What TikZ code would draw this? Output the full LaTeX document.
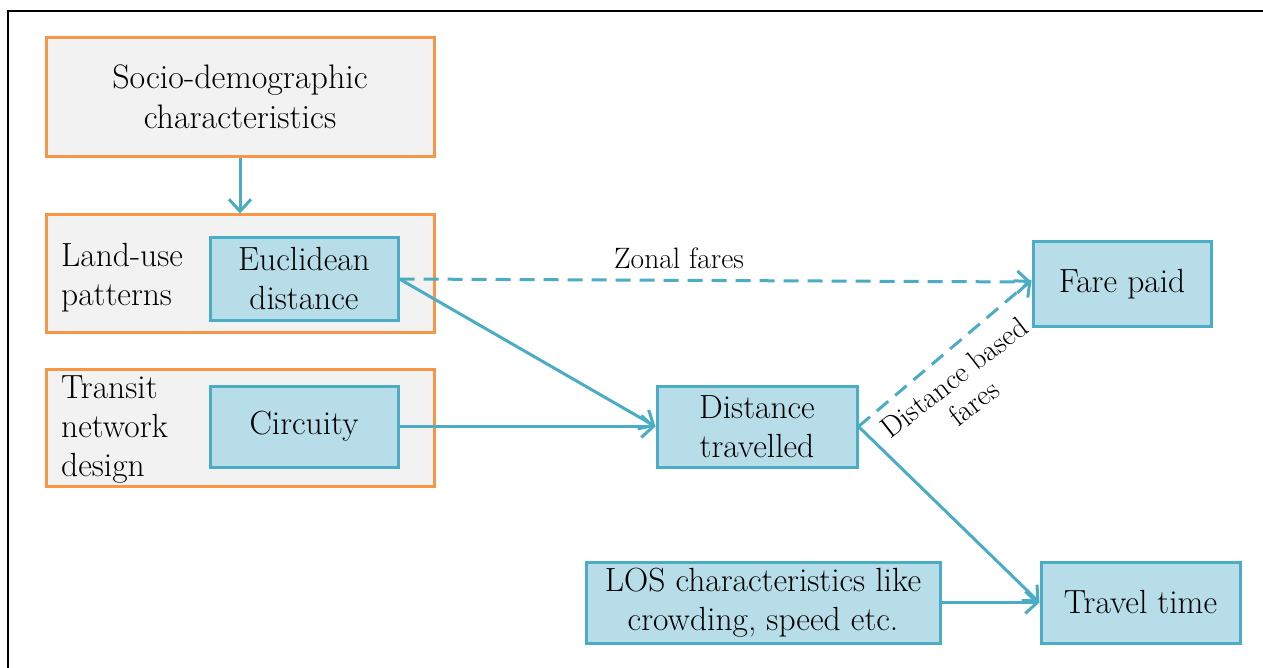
\documentclass[tikz,border=0pt]{standalone}
\usetikzlibrary{arrows.meta}
\definecolor{orangeB}{HTML}{F79646}
\definecolor{grayF}{HTML}{F2F2F2}
\definecolor{blueF}{HTML}{B7DDE8}
\definecolor{blueL}{HTML}{4BACC6}
\tikzset{
  outerbox/.style={draw=orangeB, fill=grayF, line width=3pt, minimum width=388pt, minimum height=117pt, inner sep=0pt},
  bluebox/.style={draw=blueL, fill=blueF, line width=3pt, inner sep=0pt, align=center, font=\fontsize{33.5}{39}\selectfont},
  plaintext/.style={align=left, font=\fontsize{33.5}{39}\selectfont, inner sep=0pt},
  conn/.style={draw=blueL, line width=3pt, -{Straight Barb[length=12pt,width=22pt,line width=3pt]}},
  dashconn/.style={conn, dash pattern=on 15pt off 9pt},
  lbl/.style={font=\fontsize{29.5}{32}\selectfont, inner sep=0pt, align=center}
}
\begin{document}
\begin{tikzpicture}[x=1pt,y=-1pt]
\useasboundingbox (0,0) rectangle (1263,668);
\fill[white] (0,0) rectangle (1263,668);
\draw[line width=2pt] (1263,11.5) -- (8,11.5) -- (8,668);

\node[outerbox, minimum height=119pt, align=center, font=\fontsize{34}{40}\selectfont] (socio) at (240,97) {Socio-demographic\\characteristics};
\node[outerbox] (land) at (240,273.5) {};
\node[outerbox] (transit) at (240,427.5) {};

\node[plaintext, anchor=west] (landtxt) at (61,278) {Land-use\\patterns};
\node[plaintext, anchor=west] (transittxt) at (61,430) {Transit\\network\\design};

\node[bluebox, minimum width=188pt, minimum height=82pt] (euc) at (304,279) {Euclidean\\distance};
\node[bluebox, minimum width=188pt, minimum height=81pt] (circ) at (304,426.5) {Circuity};
\node[bluebox, minimum width=200pt, minimum height=81pt] (dist) at (757,426.5) {Distance\\travelled};
\node[bluebox, minimum width=178pt, minimum height=84pt] (fare) at (1122,284) {Fare paid};
\node[bluebox, minimum width=354pt, minimum height=81pt] (los) at (763,602.5) {LOS characteristics like\\crowding, speed etc.};
\node[bluebox, minimum width=199pt, minimum height=81pt] (travel) at (1140.5,602.5) {Travel time};

\draw[conn] (socio.south) -- (land.north);
\draw[dashconn] (euc.east) -- ([yshift=2pt]fare.west);
\draw[conn] (euc.east) -- (dist.west);
\draw[conn] (circ.east) -- (dist.west);
\draw[dashconn] (dist.east) -- ([yshift=4pt]fare.west);
\draw[conn] (dist.east) -- (travel.west);
\draw[conn] (los.east) -- (travel.west);

\node[lbl] (zonal) at (679,258) {Zonal fares};
\node[lbl, rotate=38] (distlbl) at (964,390) {Distance based\\fares};
\end{tikzpicture}
\end{document}
